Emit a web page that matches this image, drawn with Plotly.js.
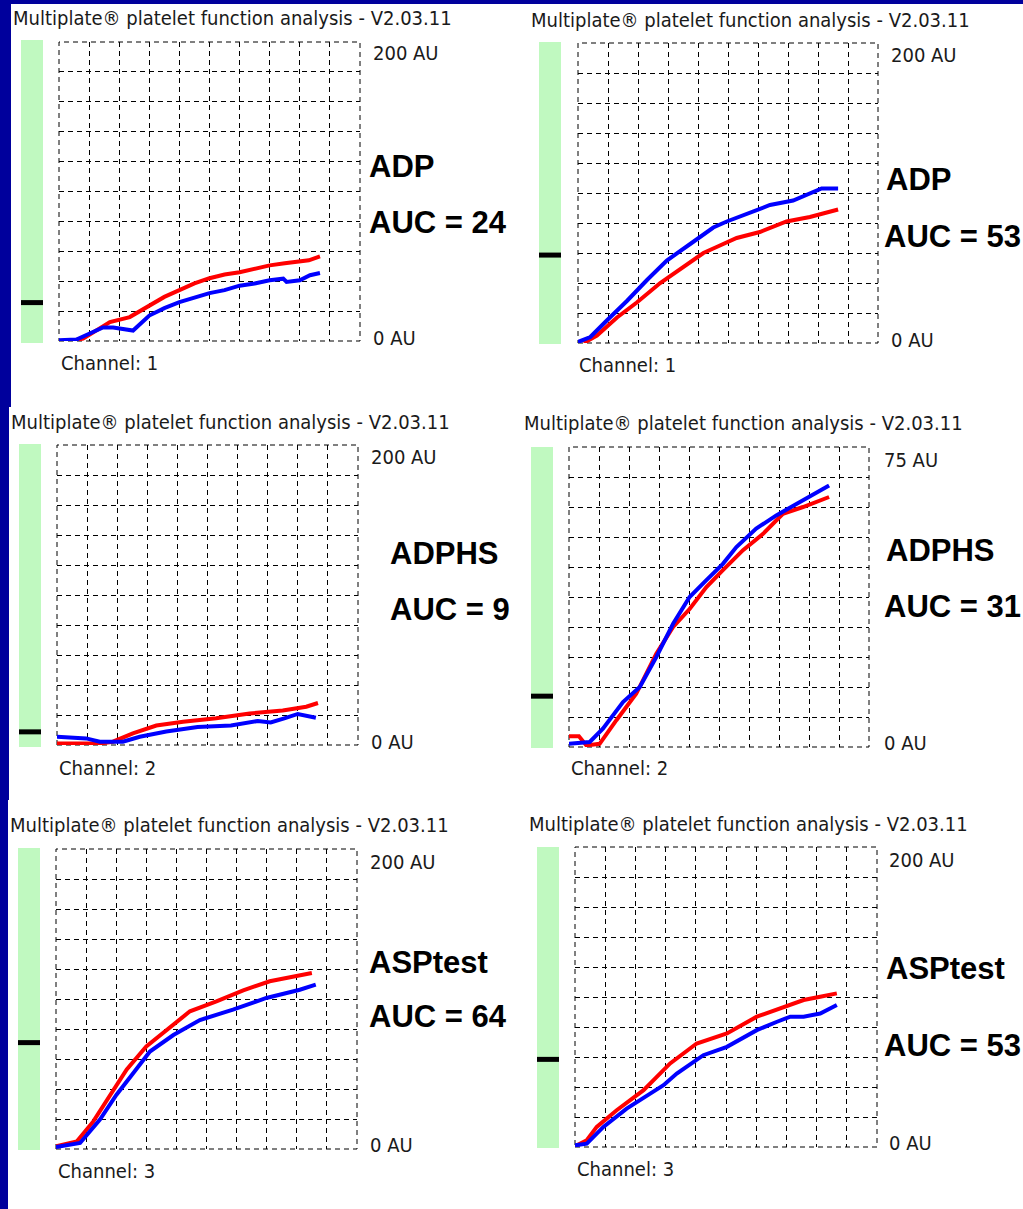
<!DOCTYPE html>
<html><head><meta charset="utf-8">
<script src="https://cdn.plot.ly/plotly-3.0.1.min.js"></script>
<style>html,body{margin:0;padding:0;background:#fff;overflow:hidden}#chart{width:1023px;height:1209px}</style>
</head><body><div id="chart"></div>
<script>
// ---- data (x in grid divisions, y in AU) ----
const testNames = ['ADP', 'ADP', 'ADPHS', 'ADPHS', 'ASPtest', 'ASPtest'];
const aucValues = [24, 53, 9, 31, 64, 53];
const channels = [1, 1, 2, 2, 3, 3];
const scaleMax = [200, 200, 200, 75, 200, 200];
const scaleTopLabels = ['200 AU', '200 AU', '200 AU', '75 AU', '200 AU', '200 AU'];
const scaleBottomLabel = '0 AU';
const gaugeMax = 180;
const headerText = 'Multiplate\u00ae platelet function analysis - V2.03.11';

const p1RedX = [0, 0.5, 0.8, 1.35, 1.69, 2.35, 3.0, 3.5, 4.0, 4.5, 5.0, 5.5, 6.0, 6.5, 7.0, 7.5, 8.0, 8.3, 8.67];
const p1RedY = [0, 0.5, 1.6, 8, 12.7, 16, 24, 29.5, 34, 38.5, 42, 44.5, 46, 48.5, 50.6, 52, 53, 54, 56.6];
const p1BlueX = [0, 0.58, 1.02, 1.46, 1.8, 2.13, 2.46, 3.0, 3.5, 4.0, 4.5, 5.0, 5.5, 6.0, 6.5, 7.0, 7.45, 7.56, 8.0, 8.34, 8.67];
const p1BlueY = [0.5, 1, 5, 9, 9, 8, 7, 17, 22, 26, 29, 32, 34, 37, 38.5, 40.6, 41.7, 39.5, 40.6, 44, 45.5];

const p2RedX = [0.19, 0.63, 1.3, 1.96, 2.74, 3.51, 4.18, 4.62, 5.29, 6.06, 6.95, 7.73, 8.67];
const p2RedY = [0, 5, 17, 27, 40, 51, 60, 64, 70, 74, 81, 84, 89];
const p2BlueX = [0, 0.41, 0.96, 1.63, 2.3, 2.96, 3.74, 4.51, 4.96, 5.73, 6.4, 7.17, 7.73, 8.12, 8.67];
const p2BlueY = [0.7, 4, 15, 28, 42, 55, 66, 77, 81, 87, 92, 95, 99.6, 103, 103];

const p3RedX = [0, 1.42, 1.86, 2.52, 3.3, 4.19, 5.29, 6.4, 7.5, 8.28, 8.67];
const p3RedY = [1, 1, 2.2, 7.8, 13, 15.5, 17.8, 21, 23, 25.5, 28];
const p3BlueX = [0, 0.97, 1.42, 2.19, 2.75, 3.63, 4.67, 5.78, 6.67, 7.1, 7.55, 8.0, 8.6];
const p3BlueY = [5.5, 4.4, 2.2, 2.2, 5.5, 9, 12, 13, 16, 15, 17.8, 20.7, 18.2];

const p4RedX = [0, 0.33, 0.58, 1.02, 1.58, 2.24, 2.91, 3.47, 4.02, 4.58, 5.13, 5.8, 6.47, 7.13, 7.8, 8.67];
const p4RedY = [2.7, 2.7, 0.4, 0.8, 6.7, 13.3, 23.3, 30, 34.5, 40, 44.2, 49.2, 53.3, 58.3, 60, 62.5];
const p4BlueX = [0, 0.69, 1.13, 1.8, 2.36, 2.91, 3.47, 4.02, 4.58, 5.13, 5.58, 6.24, 6.91, 7.58, 8.13, 8.67];
const p4BlueY = [0.8, 1.25, 4.6, 11.25, 15, 22.5, 30.8, 37.5, 41.7, 45.8, 50, 54.6, 57.9, 60.8, 62.9, 65.4];

const p5RedX = [0, 0.69, 1.24, 1.79, 2.35, 3.0, 3.67, 4.45, 5.33, 6.22, 7.1, 7.97, 8.5];
const p5RedY = [1.8, 5, 18.4, 35, 53, 68.4, 79.6, 91.8, 98.4, 105.8, 111.8, 115, 117.3];
const p5BlueX = [0, 0.8, 1.46, 2.01, 2.57, 3.12, 3.9, 4.78, 5.88, 6.99, 8.1, 8.63];
const p5BlueY = [1.3, 4, 19.6, 36.2, 50.7, 65, 76, 86, 92.9, 100.7, 106.2, 109.6];

const p6RedX = [0, 0.39, 0.72, 1.38, 2.27, 3.15, 4.03, 5.03, 6.02, 6.91, 7.57, 8.12, 8.67];
const p6RedY = [0.5, 4.5, 13.4, 24.5, 37.9, 55.7, 69, 75.7, 86.9, 93.5, 98, 100.2, 102.4];
const p6BlueX = [0, 0.39, 0.94, 1.71, 2.49, 2.93, 3.37, 4.25, 5.03, 6.02, 6.69, 7.13, 7.57, 8.12, 8.67];
const p6BlueY = [1.1, 2.2, 13.4, 25.6, 35.6, 41.2, 49, 61.2, 66.8, 77.9, 83.5, 86.9, 86.9, 89, 94.7];

const redSeries = [[p1RedX, p1RedY], [p2RedX, p2RedY], [p3RedX, p3RedY], [p4RedX, p4RedY], [p5RedX, p5RedY], [p6RedX, p6RedY]];
const blueSeries = [[p1BlueX, p1BlueY], [p2BlueX, p2BlueY], [p3BlueX, p3BlueY], [p4BlueX, p4BlueY], [p5BlueX, p5BlueY], [p6BlueX, p6BlueY]];

// ---- layout geometry (pixels) ----
const W = 1023, H = 1209;
const fx = v => v / W, fy = v => 1 - v / H;
const geo = [
  {grid: [59, 360, 42, 341], bar: [21, 43, 40, 343], title: [12, 18], top: [372, 53], bot: [372, 338], name: [368, 167], auc: [368, 223], ch: [60, 363]},
  {grid: [578, 878, 43, 343], bar: [539, 561, 42, 344], title: [530, 20], top: [890, 55], bot: [890, 340], name: [885, 180], auc: [883, 237], ch: [578, 365]},
  {grid: [57, 358, 445, 745], bar: [19, 41, 444, 747], title: [10, 422], top: [370, 457], bot: [370, 742], name: [389, 553], auc: [389, 609], ch: [58, 768]},
  {grid: [569, 869, 447, 747], bar: [531, 553, 447, 748], title: [523, 423], top: [883, 460], bot: [883, 743], name: [885, 550], auc: [883, 606], ch: [570, 768]},
  {grid: [56, 357, 849, 1149], bar: [18, 40, 848, 1150], title: [9, 825], top: [369, 862], bot: [369, 1145], name: [368, 962], auc: [368, 1017], ch: [57, 1171]},
  {grid: [575, 877, 847, 1147], bar: [537, 559, 847, 1148], title: [528, 824], top: [888, 860], bot: [888, 1143], name: [885, 968], auc: [883, 1045], ch: [576, 1169]}
];

const smallFont = {family: '"DejaVu Sans Condensed", "DejaVu Sans", sans-serif', size: 20, color: '#1a1a1a'};
const bigFont = {family: '"Liberation Sans", Arial, sans-serif', size: 31, color: '#000', weight: 'bold'};
const DASH = '5px,4px';

const traces = [];
const layout = {
  width: W, height: H, margin: {l: 0, r: 0, t: 0, b: 0},
  paper_bgcolor: '#fff', plot_bgcolor: 'rgba(0,0,0,0)',
  showlegend: false, shapes: [], annotations: []
};

// blue frame
const frameColor = '#00009c';
[[0, 1023, 0, 4], [0, 11, 0, 407], [0, 9, 407, 800], [0, 8, 800, 1209]].forEach(r => {
  layout.shapes.push({type: 'rect', xref: 'paper', yref: 'paper', x0: fx(r[0]), x1: fx(r[1]), y0: fy(r[3]), y1: fy(r[2]), fillcolor: frameColor, line: {width: 0}, layer: 'above'});
});

function ann(text, p, font) {
  layout.annotations.push({text: text, x: fx(p[0]), y: fy(p[1]), xref: 'paper', yref: 'paper', xanchor: 'left', yanchor: 'middle', showarrow: false, font: font, borderpad: 0});
}

for (let i = 0; i < 6; i++) {
  const g = geo[i];
  const n = i + 1, gn = i + 7;
  const xa = 'xaxis' + (n === 1 ? '' : n), ya = 'yaxis' + (n === 1 ? '' : n);
  const xr = 'x' + (n === 1 ? '' : n), yr = 'y' + (n === 1 ? '' : n);
  const ymax = scaleMax[i];
  const yv = []; for (let k = 1; k < 10; k++) yv.push(ymax * k / 10);
  layout[xa] = {domain: [fx(g.grid[0]), fx(g.grid[1])], range: [0, 10], tickmode: 'array', tickvals: [1, 2, 3, 4, 5, 6, 7, 8, 9],
    showticklabels: false, ticks: '', showgrid: true, gridcolor: '#000', gridwidth: 1, griddash: DASH, zeroline: false, showline: false, fixedrange: true, anchor: yr};
  layout[ya] = {domain: [fy(g.grid[3]), fy(g.grid[2])], range: [0, ymax], tickmode: 'array', tickvals: yv,
    showticklabels: false, ticks: '', showgrid: true, gridcolor: '#000', gridwidth: 1, griddash: DASH, zeroline: false, showline: false, fixedrange: true, anchor: xr};
  // dashed frame of grid
  layout.shapes.push({type: 'rect', xref: xr + ' domain', yref: yr + ' domain', x0: 0, x1: 1, y0: 0, y1: 1, line: {color: '#000', width: 1, dash: DASH}, layer: 'below'});
  // gauge axes
  layout['xaxis' + gn] = {domain: [fx(g.bar[0]), fx(g.bar[1])], range: [0, 1], visible: false, fixedrange: true, anchor: 'y' + gn};
  layout['yaxis' + gn] = {domain: [fy(g.bar[3]), fy(g.bar[2])], range: [0, gaugeMax], visible: false, fixedrange: true, anchor: 'x' + gn};
  layout.shapes.push({type: 'rect', xref: 'x' + gn + ' domain', yref: 'y' + gn + ' domain', x0: 0, x1: 1, y0: 0, y1: 1, fillcolor: '#c0f9c0', line: {width: 0}, layer: 'below'});
  traces.push({type: 'scatter', mode: 'lines', x: [0, 1], y: [aucValues[i], aucValues[i]], xaxis: 'x' + gn, yaxis: 'y' + gn,
    line: {color: '#000', width: 5}, hoverinfo: 'skip', cliponaxis: false});
  // curves
  traces.push({type: 'scatter', mode: 'lines', x: redSeries[i][0], y: redSeries[i][1], xaxis: xr, yaxis: yr, line: {color: '#ff0000', width: 4}, cliponaxis: false});
  traces.push({type: 'scatter', mode: 'lines', x: blueSeries[i][0], y: blueSeries[i][1], xaxis: xr, yaxis: yr, line: {color: '#0000ff', width: 4}, cliponaxis: false});
  // texts
  ann(headerText, g.title, smallFont);
  ann(scaleTopLabels[i], g.top, smallFont);
  ann(scaleBottomLabel, g.bot, smallFont);
  ann('Channel: ' + channels[i], g.ch, smallFont);
  ann('<b>' + testNames[i] + '</b>', g.name, bigFont);
  ann('<b>AUC = ' + aucValues[i] + '</b>', g.auc, bigFont);
}

Plotly.newPlot('chart', traces, layout, {staticPlot: true, displayModeBar: false});
</script>
</body></html>
